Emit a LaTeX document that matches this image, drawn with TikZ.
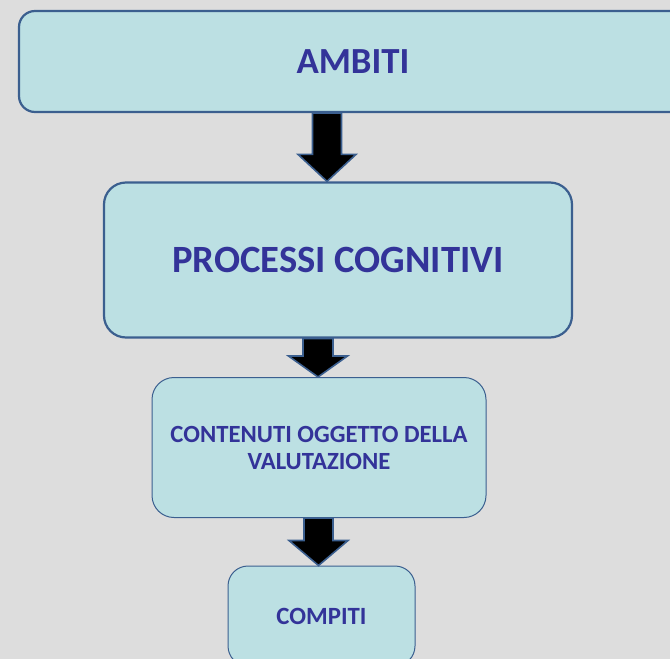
\documentclass[tikz,border=0pt]{standalone}
\usepackage{fontspec}
\setmainfont{Carlito}
\usetikzlibrary{calc}
\definecolor{bgc}{RGB}{221,221,221}
\definecolor{boxfill}{RGB}{188,224,227}
\definecolor{boxline}{RGB}{59,95,143}
\definecolor{txt}{RGB}{51,51,153}
\tikzset{
  box/.style={draw=boxline, fill=boxfill, rectangle, inner sep=0pt, text=txt, font=\bfseries, align=center},
  barrow/.style={draw=boxline, fill=black, line width=1.6pt, line join=miter}
}
\newcommand{\blockarr}[6]{%
  \draw[barrow] let \p1=(#5.south), \p2=(#6.north) in
    (#1pt-#2pt,\y1) -- (#1pt+#2pt,\y1) -- (#1pt+#2pt,\y2+#4pt) -- (#1pt+#3pt,\y2+#4pt)
    -- (#1pt,\y2) -- (#1pt-#3pt,\y2+#4pt) -- (#1pt-#2pt,\y2+#4pt) -- cycle;}
\begin{document}
\begin{tikzpicture}[x=1pt,y=-1pt]
\useasboundingbox (0,0) rectangle (670,659);
\clip (0,0) rectangle (670,659);
\fill[bgc] (0,0) rectangle (670,659);
\node[box, line width=2.2pt, rounded corners=16pt, minimum width=668pt, minimum height=101pt, font=\bfseries\fontsize{36.8}{42}\selectfont] (b1) at (353,61.5) {AMBITI};
\node[box, line width=2.2pt, rounded corners=22pt, minimum width=468pt, minimum height=155pt, font=\bfseries\fontsize{38.6}{44}\selectfont] (b2) at (338,260) {PROCESSI COGNITIVI};
\node[box, line width=1pt, rounded corners=22pt, minimum width=334pt, minimum height=140pt, font=\bfseries\fontsize{24.7}{27}\selectfont] (b3) at (319,447.5) {CONTENUTI OGGETTO DELLA\\VALUTAZIONE};
\node[box, line width=1pt, rounded corners=20pt, minimum width=187pt, minimum height=100pt, font=\bfseries\fontsize{24.8}{27}\selectfont] (b4) at (321.5,616) {COMPITI};
\blockarr{327}{14.5}{29}{27}{b1}{b2}
\blockarr{318}{15}{29.5}{21}{b2}{b3}
\blockarr{318.5}{14.5}{29.5}{25}{b3}{b4}
\end{tikzpicture}
\end{document}
